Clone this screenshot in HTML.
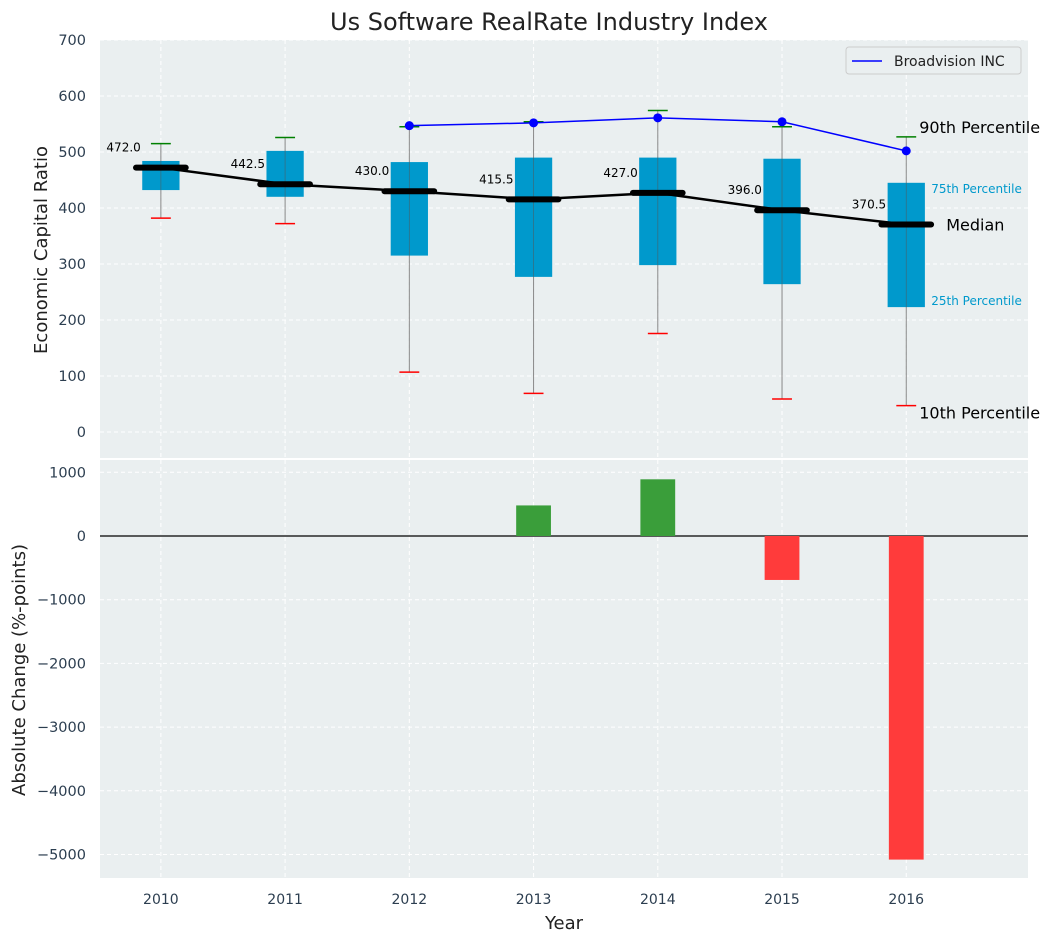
<!DOCTYPE html>
<html><head><meta charset="utf-8"><style>
body{margin:0;background:#fff;font-family:"Liberation Sans","DejaVu Sans",sans-serif}
svg text{font-family:"DejaVu Sans","Liberation Sans",sans-serif}
</style></head><body>
<svg id="c" width="1054" height="942"></svg>
<script>
const years=[2010,2011,2012,2013,2014,2015,2016];
const p10=[382,372,107,69,176,59,47];
const p25=[432,420,315,277,298,264,223];
const medians=[472.0,442.5,430.0,415.5,427.0,396.0,370.5];
const p75=[484,502,482,490,490,488,445];
const p90=[515,526,545,554,574,545,527];
const bvYears=[2012,2013,2014,2015,2016];
const bvValues=[547,552,561,554,502];
const chgYears=[2013,2014,2015,2016];
const chgValues=[480,890,-690,-5080];
const topTicks=[0,100,200,300,400,500,600,700];
const botTicks=[1000,0,-1000,-2000,-3000,-4000,-5000];

const svg=document.getElementById('c');const NS='http://www.w3.org/2000/svg';
function el(t,a,p){const e=document.createElementNS(NS,t);for(const k in a)e.setAttribute(k,a[k]);(p||svg).appendChild(e);return e;}
const X0=100,X1=1028;
const x=v=>X0+(v-2009.51)/(2016.98-2009.51)*(X1-X0);
const yT=v=>432-v*0.56;
const yB=v=>536-v*0.0637;
const TC='#2c3e50';
let r=el('rect',{x:X0,y:40,width:X1-X0,height:418,fill:'#eaeff0'});

r=el('rect',{x:X0,y:460,width:X1-X0,height:418,fill:'#eaeff0'});

years.forEach(yr=>{el('line',{x1:x(yr),x2:x(yr),y1:40,y2:458,stroke:'#fff','stroke-dasharray':'4,3'});el('line',{x1:x(yr),x2:x(yr),y1:460,y2:878,stroke:'#fff','stroke-dasharray':'4,3'});
 const t=el('text',{x:x(yr),y:904,'text-anchor':'middle','font-size':14,fill:TC});t.textContent=yr;
 });
topTicks.forEach(v=>{el('line',{x1:X0,x2:X1,y1:yT(v),y2:yT(v),stroke:'#fff','stroke-dasharray':'4,3'});
 const t=el('text',{x:86,y:yT(v)+5,'text-anchor':'end','font-size':14.5,fill:TC});t.textContent=v;
 });
botTicks.forEach(v=>{el('line',{x1:X0,x2:X1,y1:yB(v),y2:yB(v),stroke:'#fff','stroke-dasharray':'4,3'});
 const t=el('text',{x:86,y:yB(v)+5,'text-anchor':'end','font-size':14.5,fill:TC});t.textContent=String(v).replace('-','\u2212');
 });
years.forEach((yr,i)=>{const cx=x(yr),w=x(2010.15)-x(2010);
 let l=el('line',{x1:cx,x2:cx,y1:yT(p10[i]),y2:yT(p90[i]),stroke:'#888','stroke-width':1});
 
 const b=el('rect',{x:cx-w,y:yT(p75[i]),width:2*w,height:yT(p25[i])-yT(p75[i]),fill:'#0099cc'});
 
 el('line',{x1:cx,x2:cx,y1:yT(p75[i]),y2:yT(p25[i]),stroke:'#555','stroke-width':0.8,opacity:0.6});
 const cw=x(2010.08)-x(2010);
 let c=el('line',{x1:cx-cw,x2:cx+cw,y1:yT(p10[i]),y2:yT(p10[i]),stroke:'red','stroke-width':1.5});
 
 c=el('line',{x1:cx-cw,x2:cx+cw,y1:yT(p90[i]),y2:yT(p90[i]),stroke:'green','stroke-width':1.5});
 
});
let pts=years.map((yr,i)=>x(yr)+','+yT(medians[i])).join(' ');
let ml=el('polyline',{points:pts,fill:'none',stroke:'#000','stroke-width':2.5});

years.forEach((yr,i)=>{const mw=x(2010.2)-x(2010);
 const m=el('line',{x1:x(yr)-mw,x2:x(yr)+mw,y1:yT(medians[i]),y2:yT(medians[i]),stroke:'#000','stroke-width':6,'stroke-linecap':'round'});
 
 const t=el('text',{x:x(yr-0.3),y:yT(medians[i])-16,'text-anchor':'middle','font-size':12,fill:'#000'});t.textContent=medians[i].toFixed(1);
 });
pts=bvYears.map((yr,i)=>x(yr)+','+yT(bvValues[i])).join(' ');
let bl=el('polyline',{points:pts,fill:'none',stroke:'#0000ff','stroke-width':1.5});

bvYears.forEach((yr,i)=>{const d=el('circle',{cx:x(yr),cy:yT(bvValues[i]),r:4.5,fill:'#0000ff'});
 });
const L=x(2016);
[['90th Percentile',L+13,yT(p90[6])-4,16,'#000'],['75th Percentile',L+25,yT(p75[6])+10,12,'#0099cc'],['Median',L+40,yT(medians[6])+6,16,'#000'],['25th Percentile',L+25,yT(p25[6])-2,12,'#0099cc'],['10th Percentile',L+13,yT(p10[6])+13,16,'#000']].forEach(a=>{
 const t=el('text',{x:a[1],y:a[2],'font-size':a[3],fill:a[4]});t.textContent=a[0];
 });
el('line',{x1:X0,x2:X1,y1:yB(0),y2:yB(0),stroke:'#000','stroke-width':1.2});
chgYears.forEach((yr,i)=>{const v=chgValues[i],w=x(2010.14)-x(2010);
 const b=el('rect',{x:x(yr)-w,y:Math.min(yB(v),yB(0)),width:2*w,height:Math.abs(yB(v)-yB(0)),fill:v>=0?'#3a9e3a':'#ff3b3b'});
 });
const lg=el('g',{});
el('rect',{x:846,y:47,width:175,height:27,fill:'#eaeff0',stroke:'#ccc',rx:3},lg);
el('line',{x1:852,x2:882,y1:61,y2:61,stroke:'#0000ff','stroke-width':1.5},lg);
let t=el('text',{x:894,y:66,'font-size':14,fill:'#222'},lg);t.textContent='Broadvision INC';
t=el('text',{x:549,y:30,'text-anchor':'middle','font-size':24,fill:'#222'});t.textContent='Us Software RealRate Industry Index';

t=el('text',{x:564,y:929,'text-anchor':'middle','font-size':18,fill:'#222'});t.textContent='Year';

t=el('text',{x:0,y:0,'text-anchor':'middle','font-size':18,fill:'#222',transform:'translate(47,250) rotate(-90)'});t.textContent='Economic Capital Ratio';

t=el('text',{x:0,y:0,'text-anchor':'middle','font-size':18,fill:'#222',transform:'translate(25,670) rotate(-90)'});t.textContent='Absolute Change (%-points)';

</script></body></html>
